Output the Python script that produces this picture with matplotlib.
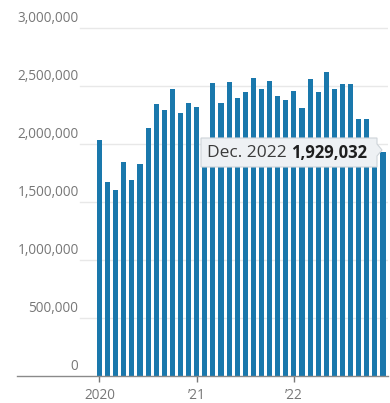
import matplotlib
matplotlib.use("Agg")
import matplotlib.pyplot as plt
from matplotlib.patches import Polygon

plt.rcParams['font.family'] = ['Open Sans', 'DejaVu Sans']

# ---- data ----
months = ["Jan", "Feb", "Mar", "Apr", "May", "Jun", "Jul", "Aug", "Sep", "Oct", "Nov", "Dec"]
years = [2020, 2021, 2022]
values_2020 = [2030000, 1666000, 1599000, 1838000, 1685000, 1826000,
               2136000, 2341000, 2286000, 2467000, 2266000, 2349000]
values_2021 = [2312000, 1960000, 2519000, 2347000, 2528000, 2390000,
               2441000, 2562000, 2473000, 2539000, 2412000, 2379000]
values_2022 = [2455000, 2304000, 2554000, 2441000, 2614000, 2473000,
               2516000, 2516000, 2209000, 2209000, 1960000, 1929032]
values = values_2020 + values_2021 + values_2022
y_ticks = [0, 500000, 1000000, 1500000, 2000000, 2500000, 3000000]
x_tick_labels = ["2020", "\u201921", "\u201922"]
tooltip_label = "Dec. 2022"

W, H = 390, 403
fig = plt.figure(figsize=(W / 100, H / 100), dpi=100)

# axes placed in pixels
ax_left, ax_right = 17, 388
ax_bottom_px = 375.5          # y pixel (from top) of zero
px_per_unit = 58 / 500000
ymax = 3100000
ax_top_px = ax_bottom_px - ymax * px_per_unit
ax = fig.add_axes([ax_left / W, 1 - ax_bottom_px / H,
                   (ax_right - ax_left) / W, (ax_bottom_px - ax_top_px) / H])

bar_color = "#1a78ac"
x = list(range(len(values)))
ax.bar(x, values, width=0.62, color=bar_color, zorder=2)

spacing = 8.1
first_center = 99.5
ax.set_xlim((ax_left - first_center) / spacing, (ax_right - first_center) / spacing)
ax.set_ylim(0, ymax)

for s in ["top", "right", "left"]:
    ax.spines[s].set_visible(False)
ax.spines["bottom"].set_color("#8a8a8a")
ax.spines["bottom"].set_linewidth(1.0)
ax.spines["bottom"].set_zorder(3)

grid_start = (80 - ax_left) / (ax_right - ax_left)
for v in y_ticks[1:]:
    ax.axhline(v, xmin=grid_start, xmax=1, color="#e8e8e8", lw=1.0, zorder=1)
ax.set_yticks([])

for v in y_ticks:
    ax.annotate(f"{v:,}", xy=(grid_start, v), xycoords=("axes fraction", "data"),
                xytext=(-1, 6.2), textcoords="offset points", ha="right", va="center",
                fontsize=9.8, color="#777777")

ax.set_xticks([0, 12, 24])
ax.set_xticklabels(x_tick_labels, fontsize=9.8, color="#777777")
ax.tick_params(axis="x", length=4, width=1, color="#777777", pad=5)

# ---- tooltip for last bar ----
def P(px, py):
    return (px / W, 1 - py / H)

box = Polygon([P(201, 138), P(377, 138), P(377, 144), P(382, 150),
               P(377, 156), P(377, 167), P(201, 167)],
              closed=True, transform=fig.transFigure, facecolor="#eef1f4",
              edgecolor="#cdd3d8", lw=0.8, zorder=10)
fig.patches.append(box)
fig.text(207 / W, 1 - 153 / H, tooltip_label, fontsize=12.5, color="#3a3a3a",
         ha="left", va="center", zorder=11)
fig.text(291 / W, 1 - 153 / H, f"{values[-1]:,}", fontsize=12, color="#1e1e1e",
         fontweight="bold", ha="left", va="center", zorder=11)

fig.savefig("out.png", dpi=100)
